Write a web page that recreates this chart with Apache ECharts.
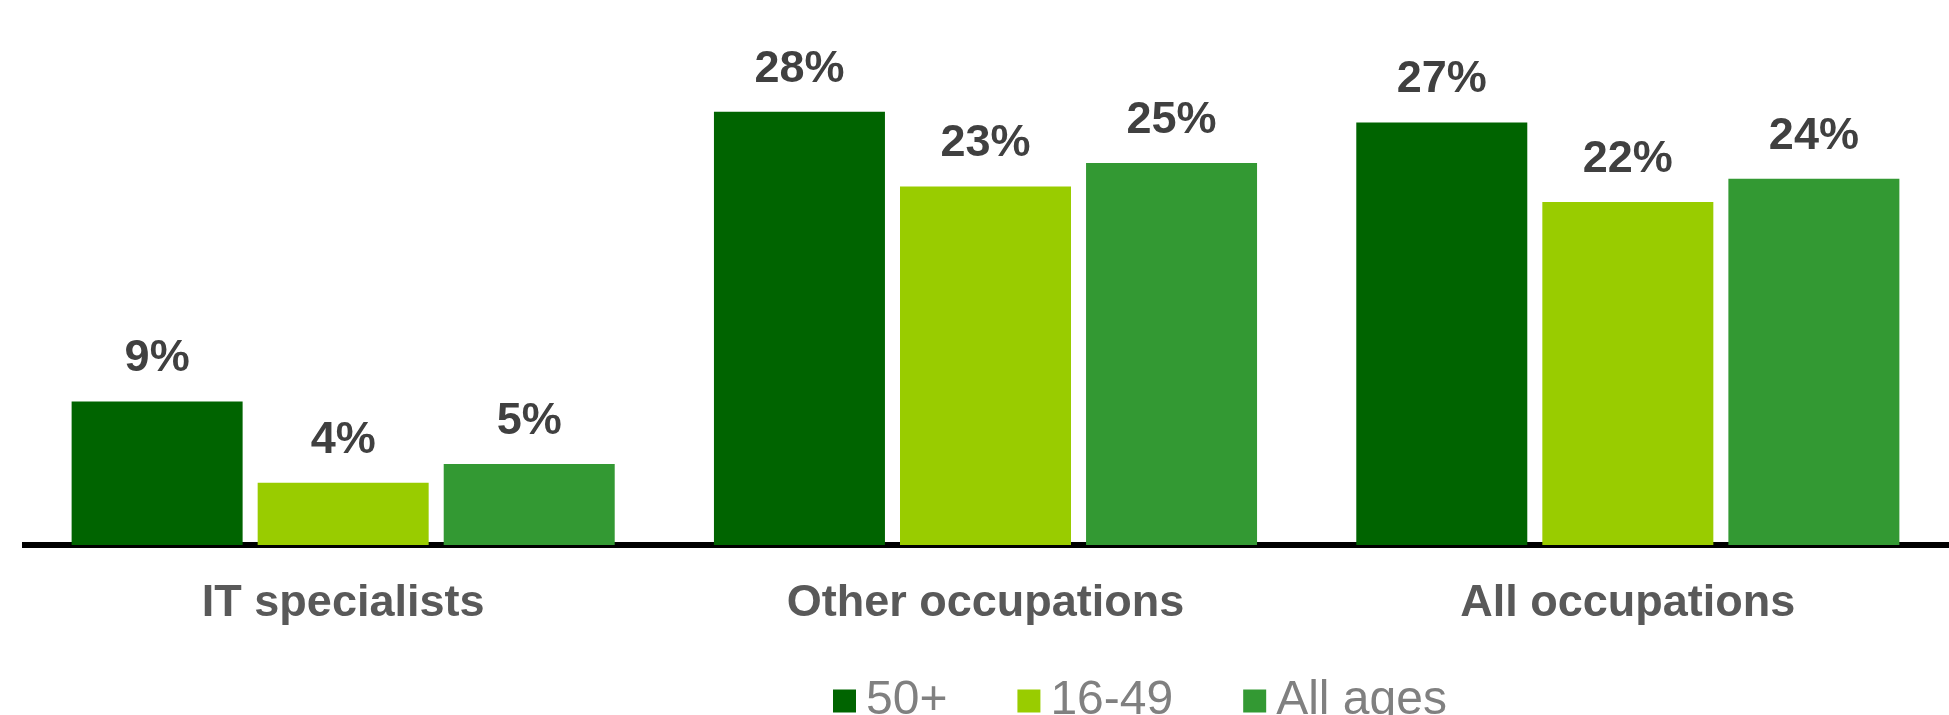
<!DOCTYPE html>
<html>
<head>
<meta charset="utf-8">
<script src="https://cdn.jsdelivr.net/npm/echarts@6/dist/echarts.min.js"></script>
<style>
html,body{margin:0;padding:0;background:#fff;}
#chart{width:1949px;height:715px;}
</style>
</head>
<body>
<div id="chart"></div>
<script>
var categories = ['IT specialists', 'Other occupations', 'All occupations'];
var seriesNames = ['50+', '16-49', 'All ages'];
var age50plus = [9.2, 27.8, 27.1];
var age16to49 = [4.0, 23.0, 22.0];
var allAges = [5.2, 24.5, 23.5];
var colors = ['#006400', '#99CC00', '#339933'];

var chart = echarts.init(document.getElementById('chart'));
var labelCfg = {
  show: true,
  position: 'top',
  distance: 20,
  fontFamily: 'Liberation Sans, Arial, sans-serif',
  fontSize: 45,
  fontWeight: 'bold',
  color: '#404040',
  formatter: function (p) { return Math.round(p.value) + '%'; }
};
function mk(name, data, color) {
  return {
    name: name,
    type: 'bar',
    data: data,
    barWidth: 171,
    barGap: '8.8%',
    itemStyle: { color: color },
    label: labelCfg,
    emphasis: { disabled: true }
  };
}
chart.setOption({
  animation: false,
  grid: { left: 22, right: 0, top: 15, bottom: 170, containLabel: false },
  legend: {
    data: seriesNames,
    left: 833,
    top: 677,
    padding: 0,
    itemWidth: 23,
    itemHeight: 23,
    itemGap: 70,
    icon: 'rect',
    textStyle: {
      fontFamily: 'Liberation Sans, Arial, sans-serif',
      fontSize: 48,
      color: '#808080',
      padding: [8, 0, 0, 5]
    }
  },
  xAxis: {
    type: 'category',
    data: categories,
    axisLine: { show: true, lineStyle: { color: '#000', width: 6, cap: 'butt' } },
    axisTick: { show: false },
    axisLabel: {
      margin: 36,
      fontFamily: 'Liberation Sans, Arial, sans-serif',
      fontSize: 45,
      fontWeight: 'bold',
      color: '#595959'
    }
  },
  yAxis: {
    type: 'value',
    min: 0,
    max: 34,
    show: false,
    splitLine: { show: false }
  },
  series: [
    mk(seriesNames[0], age50plus, colors[0]),
    mk(seriesNames[1], age16to49, colors[1]),
    mk(seriesNames[2], allAges, colors[2])
  ]
});
</script>
</body>
</html>
